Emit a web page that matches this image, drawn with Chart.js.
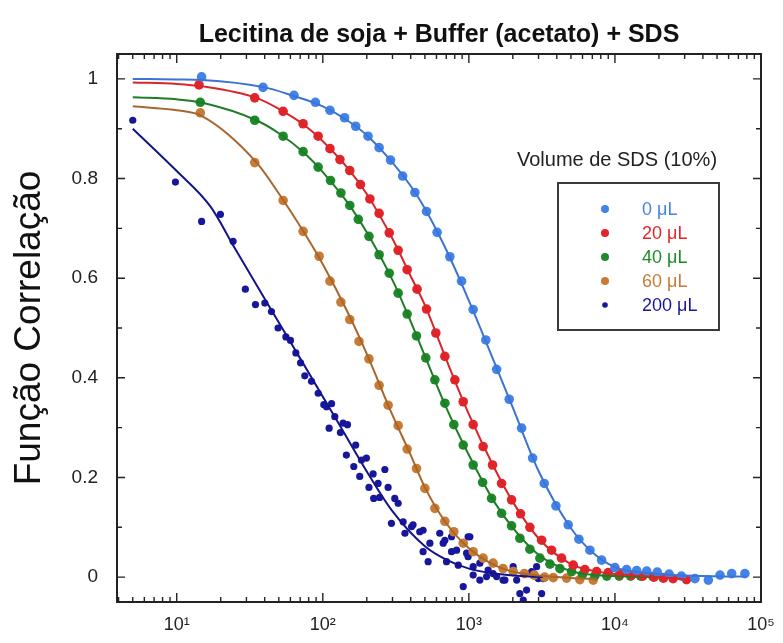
<!DOCTYPE html>
<html>
<head>
<meta charset="utf-8">
<script src="https://cdn.jsdelivr.net/npm/chart.js@4.4.1/dist/chart.umd.min.js"></script>
<style>
  html, body { margin: 0; padding: 0; background: #fff; }
  #wrap { width: 783px; height: 643px; }
</style>
</head>
<body>
<div id="wrap"><canvas id="chart"></canvas></div>
<script>
// ---- text ----
const chartTitle = 'Lecitina de soja + Buffer (acetato) + SDS';
const yAxisTitle = 'Função Correlação';
const legendTitle = 'Volume de SDS (10%)';
const seriesLabels = ['0 μL', '20 μL', '40 μL', '60 μL', '200 μL'];
const pointColors = ['#4283e8', '#e3242b', '#1f8a2b', '#c77b34', '#17179c'];
const lineColors = ['#3b74d4', '#d8262a', '#1c7d24', '#a8662c', '#14148a'];

// ---- axes ----
const xMin = 3.9, xMax = 100000;
const yMin = -0.05, yMax = 1.05;
const xTickValues = [10, 100, 1000, 10000, 100000];
const xTickLabels = ['10¹', '10²', '10³', '10⁴', '10⁵'];
const yTickValues = [0, 0.2, 0.4, 0.6, 0.8, 1];
const yTickLabels = ['0', '0.2', '0.4', '0.6', '0.8', '1'];
const yMinorTicks = [0.1, 0.3, 0.5, 0.7, 0.9];

// ---- 0 uL ----
const x0 = [14.8, 39, 63.5, 89, 112, 141, 168, 204, 243, 291, 352, 427, 513, 606, 741, 891, 1070, 1306, 1549, 1889, 2296, 2731, 3281, 3945, 4790, 5666, 6740, 8110, 10000, 12020, 14080, 16500, 19500, 23500, 28500, 35300, 43600, 52400, 63000, 77600];
const y0 = [1.004, 0.983, 0.967, 0.953, 0.937, 0.922, 0.905, 0.885, 0.862, 0.837, 0.805, 0.772, 0.734, 0.692, 0.643, 0.594, 0.537, 0.476, 0.417, 0.357, 0.299, 0.239, 0.188, 0.143, 0.105, 0.076, 0.054, 0.034, 0.019, 0.015, 0.013, 0.012, 0.010, 0.006, 0.002, -0.003, -0.006, 0.004, 0.007, 0.007];
const fitX0 = [5, 10, 15, 40, 60, 100, 150, 200, 300, 400, 500, 700, 1000, 1500, 2000, 3000, 5000, 7000, 10000, 15000, 30000, 80000];
const fitY0 = [1.0, 0.999, 0.998, 0.983, 0.968, 0.945, 0.915, 0.887, 0.832, 0.785, 0.740, 0.657, 0.555, 0.430, 0.340, 0.213, 0.098, 0.050, 0.020, 0.009, 0.003, 0.001];

// ---- 20 uL ----
const x20 = [14.2, 34.2, 53.5, 73.3, 92.9, 112, 131, 153, 181, 210, 243, 285, 328, 378, 442, 513, 594, 685, 802, 915, 1070, 1252, 1452, 1674, 1960, 2258, 2616, 3148, 3683, 4310, 5180, 6230, 7500, 9000, 10800, 13000, 15500, 18500, 21500, 25000, 30900];
const y20 = [0.988, 0.962, 0.935, 0.910, 0.885, 0.860, 0.838, 0.816, 0.788, 0.759, 0.730, 0.691, 0.656, 0.617, 0.578, 0.538, 0.490, 0.443, 0.396, 0.352, 0.306, 0.262, 0.225, 0.188, 0.155, 0.127, 0.100, 0.074, 0.054, 0.038, 0.024, 0.015, 0.011, 0.009, 0.006, 0.004, 0.002, 0.0, -0.002, -0.003, -0.005];
const fitX20 = [5, 10, 15, 35, 50, 75, 100, 150, 200, 300, 400, 500, 700, 1000, 1500, 2000, 3000, 5000, 7000, 10000, 20000, 30000];
const fitY20 = [0.993, 0.990, 0.985, 0.962, 0.940, 0.907, 0.875, 0.819, 0.769, 0.679, 0.604, 0.546, 0.437, 0.327, 0.218, 0.151, 0.078, 0.026, 0.013, 0.006, 0.0, -0.004];

// ---- 40 uL ----
const x40 = [14.5, 34.2, 53.5, 73.3, 92.9, 113, 133, 153, 175, 207, 243, 285, 328, 378, 438, 507, 585, 685, 789, 915, 1070, 1242, 1430, 1674, 1960, 2234, 2616, 3064, 3590, 4200, 5050, 6000, 7300, 8800, 10700, 12800, 15000, 18200, 21300];
const y40 = [0.953, 0.917, 0.885, 0.854, 0.823, 0.796, 0.771, 0.746, 0.718, 0.684, 0.647, 0.610, 0.570, 0.528, 0.484, 0.440, 0.396, 0.349, 0.306, 0.265, 0.225, 0.190, 0.158, 0.128, 0.103, 0.078, 0.056, 0.038, 0.026, 0.017, 0.011, 0.005, 0.003, 0.002, 0.002, 0.002, 0.002, 0.001, -0.001];
const fitX40 = [5, 10, 15, 35, 50, 75, 100, 150, 200, 300, 400, 500, 700, 1000, 1500, 2000, 3000, 5000, 10000, 21000];
const fitY40 = [0.963, 0.959, 0.952, 0.917, 0.891, 0.851, 0.813, 0.749, 0.692, 0.596, 0.513, 0.444, 0.340, 0.245, 0.150, 0.099, 0.045, 0.012, 0.002, 0.0];

// ---- 60 uL ----
const x60 = [14.5, 34.2, 53.5, 73.3, 94.4, 112, 133, 153, 177, 207, 243, 280, 328, 378, 438, 500, 585, 685, 789, 915, 1070, 1252, 1465, 1714, 2010, 2400, 2800, 3300, 3785, 4670, 5750, 7100];
const y60 = [0.932, 0.832, 0.756, 0.694, 0.644, 0.594, 0.552, 0.517, 0.473, 0.438, 0.385, 0.345, 0.304, 0.257, 0.218, 0.178, 0.138, 0.112, 0.091, 0.068, 0.051, 0.038, 0.028, 0.017, 0.011, 0.007, 0.004, 0.0, -0.001, -0.002, -0.005, -0.006];
const fitX60 = [5, 10, 15, 35, 50, 75, 100, 150, 200, 300, 400, 500, 700, 1000, 1500, 2000, 3000, 5000, 7500];
const fitY60 = [0.945, 0.937, 0.925, 0.833, 0.770, 0.690, 0.628, 0.528, 0.448, 0.325, 0.245, 0.180, 0.108, 0.058, 0.024, 0.011, 0.003, -0.002, -0.004];

// ---- 200 uL ----
const x200 = [5, 9.8, 14.8, 19.9, 24.3, 29.5, 34.6, 40.1, 44.5, 49.4, 55.9, 60.1, 65.4, 70.4, 75.3, 83.7, 93, 101.6, 106, 110.5, 114.8, 120.8, 132, 137.7, 145, 147.6, 163, 168, 179, 184, 199, 207, 221, 223, 239, 245, 266, 280, 295, 311, 328, 355, 365, 405, 415, 461, 486, 486, 526, 541, 632, 667, 685, 703, 761, 761, 824, 846, 915, 965, 988, 988, 1016, 1070, 1070, 1189, 1189, 1322, 1355, 1465, 1549, 1714, 1765, 2010, 2125, 2234, 2357, 2483, 2690, 2770, 2910, 2985, 3150, 3235];
const y200 = [0.917, 0.793, 0.714, 0.728, 0.674, 0.578, 0.547, 0.550, 0.533, 0.500, 0.482, 0.475, 0.450, 0.430, 0.404, 0.393, 0.369, 0.346, 0.342, 0.299, 0.348, 0.322, 0.290, 0.309, 0.245, 0.306, 0.222, 0.265, 0.202, 0.235, 0.239, 0.180, 0.207, 0.158, 0.188, 0.160, 0.216, 0.180, 0.108, 0.158, 0.148, 0.111, 0.088, 0.101, 0.105, 0.091, 0.051, 0.094, 0.031, 0.068, 0.088, 0.068, 0.074, 0.031, 0.051, 0.081, 0.054, 0.024, -0.019, 0.048, 0.081, 0.041, 0.081, 0.004, 0.021, -0.006, 0.028, 0.001, 0.014, 0.007, 0.001, -0.006, -0.006, 0.021, -0.006, -0.033, -0.046, -0.026, 0.011, 0.007, 0.021, -0.003, -0.033, -0.003];
const fitX200 = [5, 10, 17, 25, 43, 73, 124, 210, 295, 500, 700, 1000, 1500, 2000, 3200];
const fitY200 = [0.900, 0.815, 0.744, 0.660, 0.543, 0.430, 0.316, 0.202, 0.135, 0.062, 0.035, 0.017, 0.007, 0.003, 0.0];

const pointSeries = [[x0, y0], [x20, y20], [x40, y40], [x60, y60], [x200, y200]];
const fitSeries = [[fitX0, fitY0], [fitX20, fitY20], [fitX40, fitY40], [fitX60, fitY60], [fitX200, fitY200]];
const pointRadii = [4.8, 4.8, 4.8, 4.8, 3.6];

const FONT = "'Liberation Sans', Arial, Helvetica, sans-serif";

function zip(xs, ys) {
    return xs.map((x, i) => ({ x: x, y: ys[i] }));
}

const datasets = [];
fitSeries.forEach(([xs, ys], i) => {
    datasets.push({
        type: 'line',
        label: seriesLabels[i] + ' fit',
        data: zip(xs, ys),
        borderColor: lineColors[i],
        borderWidth: 2,
        pointRadius: 0,
        fill: false,
        cubicInterpolationMode: 'monotone',
        order: 0
    });
});
pointSeries.forEach(([xs, ys], i) => {
    datasets.push({
        type: 'scatter',
        label: seriesLabels[i],
        data: zip(xs, ys),
        backgroundColor: pointColors[i],
        borderColor: pointColors[i],
        borderWidth: 0,
        pointRadius: pointRadii[i],
        order: 1
    });
});

// frame with inward ticks on all four sides, plus the title centred on the plot
const framePlugin = {
    id: 'frame',
    afterDatasetsDraw(chart) {
        const { ctx, chartArea: a, scales: { x, y } } = chart;
        ctx.save();
        ctx.strokeStyle = '#222';
        ctx.lineWidth = 2;
        ctx.strokeRect(a.left, a.top, a.right - a.left, a.bottom - a.top);
        ctx.lineWidth = 1.4;
        ctx.beginPath();
        const yTick = (v, len) => {
            const p = y.getPixelForValue(v);
            ctx.moveTo(a.left, p); ctx.lineTo(a.left + len, p);
            ctx.moveTo(a.right, p); ctx.lineTo(a.right - len, p);
        };
        yTickValues.forEach(v => yTick(v, 8));
        yMinorTicks.forEach(v => yTick(v, 5));
        const xTick = (v, len) => {
            const p = x.getPixelForValue(v);
            if (p < a.left + 1 || p > a.right - 1) return;
            ctx.moveTo(p, a.bottom); ctx.lineTo(p, a.bottom - len);
            ctx.moveTo(p, a.top); ctx.lineTo(p, a.top + len);
        };
        xTickValues.forEach(v => xTick(v, 9));
        [1, 10, 100, 1000, 10000].forEach(d => {
            for (let m = 2; m <= 9; m++) xTick(m * d, 5);
        });
        ctx.stroke();

        ctx.fillStyle = '#111';
        ctx.font = `bold 25px ${FONT}`;
        ctx.textAlign = 'center';
        ctx.textBaseline = 'alphabetic';
        ctx.fillText(chartTitle, (a.left + a.right) / 2, a.top - 12);
        ctx.restore();
    }
};

// legend box drawn inside the plot
const legendPlugin = {
    id: 'boxLegend',
    afterDraw(chart) {
        const { ctx, chartArea: a } = chart;
        const boxL = a.right - 203, boxR = a.right - 42;
        const boxT = a.top + 129, boxB = a.top + 276;
        ctx.save();
        ctx.fillStyle = '#222';
        ctx.font = `20px ${FONT}`;
        ctx.textAlign = 'center';
        ctx.textBaseline = 'middle';
        ctx.fillText(legendTitle, a.right - 144, a.top + 106);
        ctx.fillStyle = '#fff';
        ctx.fillRect(boxL, boxT, boxR - boxL, boxB - boxT);
        ctx.strokeStyle = '#3a3a3a';
        ctx.lineWidth = 2;
        ctx.strokeRect(boxL, boxT, boxR - boxL, boxB - boxT);
        ctx.font = `18px ${FONT}`;
        ctx.textAlign = 'left';
        seriesLabels.forEach((lab, i) => {
            const yy = boxT + 26 + i * 24;
            ctx.fillStyle = pointColors[i];
            ctx.beginPath();
            ctx.arc(boxL + 47, yy, pointRadii[i] - 0.8, 0, Math.PI * 2);
            ctx.fill();
            ctx.fillText(lab, boxL + 84, yy + 1);
        });
        ctx.restore();
    }
};

new Chart(document.getElementById('chart'), {
    data: { datasets: datasets },
    plugins: [framePlugin, legendPlugin],
    options: {
        responsive: true,
        maintainAspectRatio: false,
        animation: false,
        layout: { padding: { left: 0, right: 22, top: 54, bottom: 0 } },
        plugins: {
            legend: { display: false },
            tooltip: { enabled: false },
            title: { display: false }
        },
        scales: {
            x: {
                type: 'logarithmic',
                min: xMin,
                max: xMax,
                afterBuildTicks: s => { s.ticks = xTickValues.map(v => ({ value: v })); },
                afterFit: s => { s.height = 41; s.paddingLeft = 0; s.paddingRight = 0; },
                grid: { display: false, drawTicks: false },
                border: { display: false },
                ticks: {
                    autoSkip: false,
                    maxRotation: 0,
                    padding: 12,
                    color: '#222',
                    font: { family: FONT, size: 18 },
                    callback: (v, i) => xTickLabels[i]
                }
            },
            y: {
                type: 'linear',
                min: yMin,
                max: yMax,
                afterBuildTicks: s => { s.ticks = yTickValues.map(v => ({ value: v })); },
                afterFit: s => { s.width = 117; },
                grid: { display: false, drawTicks: false },
                border: { display: false },
                title: {
                    display: true,
                    text: yAxisTitle,
                    color: '#111',
                    font: { family: FONT, size: 37 },
                    padding: { top: 8, bottom: 0 }
                },
                ticks: {
                    autoSkip: false,
                    padding: 19,
                    color: '#222',
                    font: { family: FONT, size: 19 },
                    callback: (v, i) => yTickLabels[i]
                }
            }
        }
    }
});
</script>
</body>
</html>
